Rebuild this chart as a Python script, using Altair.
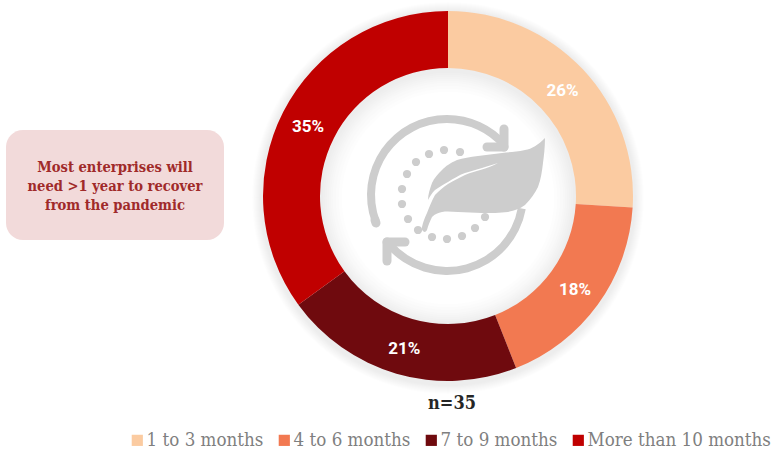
import altair as alt
import pandas as pd

# Survey shares (percent) by expected recovery time
categories = ["1 to 3 months", "4 to 6 months", "7 to 9 months", "More than 10 months"]
shares = [26, 18, 21, 35]
colors = ["#FBCBA1", "#F27951", "#6F0A0E", "#C00000"]
callout_lines = ["Most enterprises will", "need >1 year to recover", "from the pandemic"]
sample_label = "n=35"

SLAB = "DejaVu Serif Condensed"
CX, CY = 448, 196

df = pd.DataFrame({"category": categories, "share": shares,
                   "label": [f"{s}%" for s in shares], "rank": range(4)})

blank = alt.Data(values=[{"a": 0}])

# Soft shadow: stacked translucent rings on both sides of the donut
shadow_layers = [
    alt.Chart(blank).mark_arc(innerRadius=r0, outerRadius=r1, color="#000000", opacity=0.009,
                              theta=0, theta2=6.2832)
    .encode(x=alt.value(CX), y=alt.value(CY + 2))
    for r0, r1 in [(106, 196), (109, 195), (112, 194), (115, 193), (117, 192),
                   (119, 191), (121, 190), (123, 189), (125, 188)]
]

donut = (
    alt.Chart(alt.Data(values=df.to_dict("records")))
    .mark_arc(innerRadius=128, outerRadius=185)
    .encode(
        x=alt.value(CX),
        y=alt.value(CY),
        theta=alt.Theta("share:Q", stack=True),
        order=alt.Order("rank:Q"),
        color=alt.Color(
            "category:N",
            sort=categories,
            scale=alt.Scale(domain=categories, range=colors),
            legend=alt.Legend(
                orient="none", legendX=128, legendY=431, direction="horizontal", title=None,
                symbolType="square", symbolSize=125, symbolStrokeWidth=0,
                labelFont=SLAB, labelFontSize=18.6, labelColor="#7F7F7F",
                labelOffset=0, columnPadding=11, labelLimit=300,
            ),
        ),
    )
)

value_labels = (
    alt.Chart(alt.Data(values=df.to_dict("records")))
    .mark_text(radius=157, dy=2, font="Roboto", fontWeight="bold", fontSize=17, color="#FFFFFF")
    .encode(
        x=alt.value(CX),
        y=alt.value(CY),
        theta=alt.Theta("share:Q", stack=True),
        order=alt.Order("rank:Q"),
        text=alt.Text("label:N"),
    )
)

n_label = alt.Chart(blank).mark_text(
    text=sample_label, font=SLAB, fontWeight="bold", fontSize=18, color="#262626"
).encode(x=alt.value(452), y=alt.value(404))

# Callout box on the left
box = alt.Chart(blank).mark_rect(color="#F2DADA", cornerRadius=17).encode(
    x=alt.value(6), x2=alt.value(224), y=alt.value(130), y2=alt.value(240)
)
box_text = [
    alt.Chart(blank).mark_text(
        text=line, font=SLAB, fontWeight="bold", fontSize=14.6, color="#A02A2A"
    ).encode(x=alt.value(115), y=alt.value(y))
    for line, y in zip(callout_lines, [168, 187, 206])
]

# Centre icon: circular arrows, dotted ring and a leaf
GREY = "#CDCDCD"
ring = [
    alt.Chart(blank).mark_arc(innerRadius=72, outerRadius=80, color=GREY, theta=t0, theta2=t1)
    .encode(x=alt.value(447), y=alt.value(195))
    for t0, t1 in [(4.36, 6.2832), (0, 0.86), (1.75, 4.0)]
]
arrow_strokes = [
    alt.Chart(blank).mark_rule(color=GREY, strokeWidth=9, strokeCap="round").encode(
        x=alt.value(x0), x2=alt.value(x1), y=alt.value(y0), y2=alt.value(y1))
    for x0, y0, x1, y1 in [
        (504, 147, 504, 129), (504, 147, 487, 147),
        (387, 242, 387, 261), (387, 242, 405, 242),
        (375, 220, 376, 223),
    ]
]
dots = [
    alt.Chart(blank).mark_circle(color=GREY, size=68, opacity=1).encode(x=alt.value(x), y=alt.value(y))
    for x, y in [(460, 152), (444, 150), (429, 154), (416, 162), (407, 174), (402, 189), (402, 204),
                 (408, 219), (418, 230), (432, 237), (447, 239), (462, 236), (475, 228), (485, 217)]
]
leaf_path = (
    "M 59 -47 C 52 -40 46 -36 39 -35 C 30 -33 24 -33 16 -32 C 8 -31 0 -30 -8 -29 "
    "C -16 -28 -23 -27 -29 -25 C -36 -22 -40 -19 -44 -15 C -48 -11 -52 -7 -54 -2 "
    "C -56 4 -58 9 -58 15 C -56 11 -54 8 -51 5 C -47 2 -43 0 -38 -3 C -33 -6 -27 -10 -21 -12 "
    "C -15 -14 -10 -15 -4 -17 C 1 -19 7 -20 12 -22 C 7 -19 1 -17 -4 -15.5 C -10 -13.5 -15 -12.5 -21 -10 "
    "C -27 -7 -33 -4 -38 -1 C -43 2 -47 6 -51 10 C -54 15 -57 23 -59 28 C -61 32 -63 37 -64 42 "
    "C -65 46 -61 49 -59 45 C -58 41 -56 36 -54 32 C -51 29 -48 28 -44 27 C -38 26 -33 27 -28 27 "
    "C -20 27 -12 28 -4 28 C 5 28 14 28 22 27 C 29 25 34 24 39 20 C 45 14 49 8 52 2 "
    "C 55 -6 56 -14 57 -22 C 58 -30 59 -38 59 -47 Z"
)
leaf = alt.Chart(blank).mark_point(
    shape=leaf_path, size=4, filled=True, color=GREY, opacity=1, strokeWidth=0
).encode(x=alt.value(486), y=alt.value(185))

chart = alt.layer(
    *shadow_layers, donut, value_labels, n_label, box, *box_text,
    *ring, *arrow_strokes, *dots, leaf,
).properties(
    width=773, height=452, padding=0, autosize=alt.AutoSizeParams(type="none"), background="#FFFFFF"
).configure_view(stroke=None)

chart.save("out.html", embed_options={"renderer": "svg", "actions": False})
